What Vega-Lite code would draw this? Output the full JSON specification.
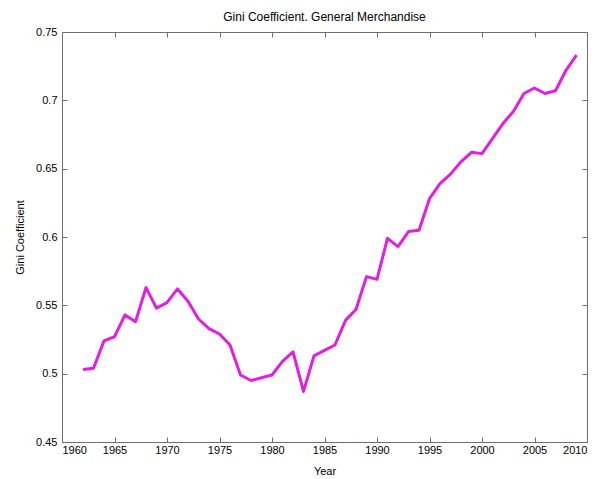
{
  "$schema": "https://vega.github.io/schema/vega-lite/v6.json",
  "autosize": "none",
  "width": 525,
  "height": 410,
  "padding": {"left": 62, "top": 32, "right": 24, "bottom": 37},
  "background": "white",
  "config": {
    "font": "Liberation Sans",
    "view": {"stroke": "#6e6e6e", "strokeWidth": 1},
    "axis": {"grid": false, "domain": false, "tickColor": "#6e6e6e", "labelColor": "#000000", "titleColor": "#000000", "labelFont": "Liberation Sans", "titleFont": "Liberation Sans", "labelFontSize": 11, "titleFontSize": 11, "titleFontWeight": "normal", "tickSize": -5}
  },
  "title": {"text": "Gini Coefficient. General Merchandise", "fontSize": 12, "fontWeight": "normal", "font": "Liberation Sans", "color": "#000000", "offset": 2, "anchor": "middle"},
  "data": {"values": [
    {"year": 1962, "gini": 0.503}, {"year": 1963, "gini": 0.504}, {"year": 1964, "gini": 0.524}, {"year": 1965, "gini": 0.527},
    {"year": 1966, "gini": 0.543}, {"year": 1967, "gini": 0.538}, {"year": 1968, "gini": 0.563}, {"year": 1969, "gini": 0.548},
    {"year": 1970, "gini": 0.552}, {"year": 1971, "gini": 0.562}, {"year": 1972, "gini": 0.553}, {"year": 1973, "gini": 0.540},
    {"year": 1974, "gini": 0.533}, {"year": 1975, "gini": 0.529}, {"year": 1976, "gini": 0.521}, {"year": 1977, "gini": 0.499},
    {"year": 1978, "gini": 0.495}, {"year": 1979, "gini": 0.497}, {"year": 1980, "gini": 0.499}, {"year": 1981, "gini": 0.509},
    {"year": 1982, "gini": 0.516}, {"year": 1983, "gini": 0.487}, {"year": 1984, "gini": 0.513}, {"year": 1985, "gini": 0.517},
    {"year": 1986, "gini": 0.521}, {"year": 1987, "gini": 0.539}, {"year": 1988, "gini": 0.547}, {"year": 1989, "gini": 0.571},
    {"year": 1990, "gini": 0.569}, {"year": 1991, "gini": 0.599}, {"year": 1992, "gini": 0.593}, {"year": 1993, "gini": 0.604},
    {"year": 1994, "gini": 0.605}, {"year": 1995, "gini": 0.628}, {"year": 1996, "gini": 0.639}, {"year": 1997, "gini": 0.646},
    {"year": 1998, "gini": 0.655}, {"year": 1999, "gini": 0.662}, {"year": 2000, "gini": 0.661}, {"year": 2001, "gini": 0.672},
    {"year": 2002, "gini": 0.683}, {"year": 2003, "gini": 0.692}, {"year": 2004, "gini": 0.705}, {"year": 2005, "gini": 0.709},
    {"year": 2006, "gini": 0.705}, {"year": 2007, "gini": 0.707}, {"year": 2008, "gini": 0.722}, {"year": 2009, "gini": 0.733}
  ]},
  "layer": [
    {
      "mark": {"type": "line", "color": "#e31ee3", "strokeWidth": 3, "strokeJoin": "round"},
      "encoding": {
        "x": {"field": "year", "type": "quantitative", "scale": {"domain": [1960, 2010], "nice": false, "zero": false},
          "axis": {"orient": "bottom", "title": "Year", "format": "d", "values": [1960,1965,1970,1975,1980,1985,1990,1995,2000,2005,2010], "labelPadding": 7, "titlePadding": 10}},
        "y": {"field": "gini", "type": "quantitative", "scale": {"domain": [0.45, 0.75], "nice": false, "zero": false},
          "axis": {"orient": "left", "title": "Gini Coefficient", "format": "~g", "values": [0.45,0.5,0.55,0.6,0.65,0.7,0.75], "labelPadding": 10, "titlePadding": 10}}
      }
    },
    {
      "mark": {"type": "line", "opacity": 0},
      "encoding": {
        "x": {"field": "year", "type": "quantitative", "axis": {"orient": "top", "title": null, "labels": false, "values": [1960,1965,1970,1975,1980,1985,1990,1995,2000,2005,2010]}},
        "y": {"field": "gini", "type": "quantitative", "axis": {"orient": "right", "title": null, "labels": false, "values": [0.45,0.5,0.55,0.6,0.65,0.7,0.75]}}
      }
    }
  ],
  "resolve": {"axis": {"x": "independent", "y": "independent"}}
}
